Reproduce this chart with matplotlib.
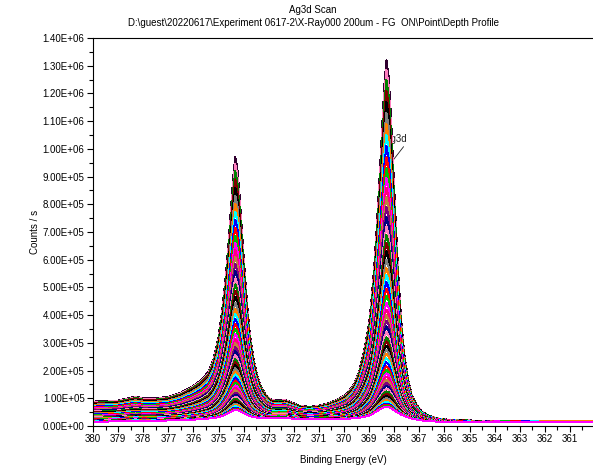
import matplotlib
matplotlib.use("Agg")
import matplotlib.pyplot as plt
from matplotlib.ticker import MultipleLocator, FuncFormatter
import numpy as np

plt.rcParams['font.family'] = ['Liberation Sans', 'DejaVu Sans']
plt.rcParams['font.size'] = 7

TITLE = "Ag3d Scan"
SUBTITLE = "D:\\guest\\20220617\\Experiment 0617-2\\X-Ray000 200um - FG  ON\\Point\\Depth Profile"

# binding energy grid (eV)
energy = [380.0, 379.5, 379.0, 378.6, 378.3, 378.0, 377.5, 377.0, 376.5, 376.0,
          375.7, 375.4, 375.2, 375.0, 374.85, 374.7, 374.6, 374.5, 374.4, 374.33,
          374.25, 374.15, 374.05, 373.95, 373.85, 373.75, 373.6, 373.45, 373.3, 373.1,
          372.9, 372.6, 372.35, 372.1, 371.8, 371.4, 371.0, 370.6, 370.2, 369.9,
          369.6, 369.4, 369.2, 369.0, 368.9, 368.8, 368.7, 368.6, 368.5, 368.4,
          368.31, 368.22, 368.12, 368.02, 367.92, 367.82, 367.72, 367.6, 367.45, 367.3,
          367.1, 366.9, 366.6, 366.3, 366.0, 365.5, 365.0, 364.0, 362.0, 360.0]

# last (deepest) scan, counts/s in 1e5
top_scan = [0.88, 0.90, 0.92, 1.00, 1.06, 1.00, 1.00, 1.05, 1.20, 1.45,
            1.65, 1.95, 2.4, 3.2, 4.2, 5.5, 6.6, 7.9, 9.1, 9.7,
            9.3, 8.2, 6.8, 5.5, 4.3, 3.3, 2.4, 1.8, 1.4, 1.1,
            0.95, 0.92, 0.95, 0.85, 0.74, 0.69, 0.73, 0.82, 0.98, 1.15,
            1.5, 1.95, 2.7, 3.7, 4.6, 5.7, 7.1, 8.7, 10.4, 12.2,
            13.2, 12.6, 11.0, 9.0, 7.0, 5.2, 3.8, 2.6, 1.7, 1.1,
            0.75, 0.52, 0.36, 0.28, 0.24, 0.21, 0.20, 0.18, 0.17, 0.17]

# first (surface) scan, counts/s in 1e5
first_scan = [0.15, 0.16, 0.17, 0.18, 0.19, 0.18, 0.19, 0.20, 0.21, 0.23,
              0.25, 0.27, 0.29, 0.32, 0.36, 0.42, 0.47, 0.52, 0.56, 0.58,
              0.57, 0.54, 0.49, 0.44, 0.40, 0.36, 0.32, 0.30, 0.29, 0.28,
              0.28, 0.28, 0.28, 0.27, 0.26, 0.25, 0.25, 0.25, 0.25, 0.26,
              0.28, 0.30, 0.33, 0.38, 0.42, 0.47, 0.53, 0.59, 0.64, 0.68,
              0.69, 0.68, 0.64, 0.58, 0.52, 0.46, 0.41, 0.36, 0.31, 0.27,
              0.23, 0.20, 0.18, 0.16, 0.15, 0.14, 0.14, 0.13, 0.13, 0.13]

# Ag3d5/2 peak height of every scan in the profile (1e5 counts/s)
peak_heights = [0.69, 0.72, 0.76, 0.81, 0.87, 0.93, 1.0, 1.08, 1.16, 1.25,
                1.35, 1.45, 1.55, 1.66, 1.78, 1.9, 2.02, 2.15, 2.3, 2.45,
                2.6, 2.75, 2.9, 3.05, 3.2, 3.4, 3.6, 3.8, 4.0, 4.2,
                4.45, 4.7, 4.95, 5.2, 5.45, 5.7, 6.0, 6.3, 6.6, 6.9,
                7.2, 7.55, 7.9, 8.25, 8.6, 8.95, 9.3, 9.7, 10.1, 10.5,
                10.9, 11.3, 11.7, 12.1, 12.5, 12.85, 13.2]

line_colors = ['#FF00FF', '#00C000', '#FF0000', '#0000FF', '#00FFFF', '#FF8000',
               '#808080', '#000000', '#800000', '#008000', '#FF80C0', '#000080',
               '#800080', '#C08040', '#FF0080']

x = np.array(energy)
top = np.array(top_scan)
first = np.array(first_scan)
ipk = energy.index(368.31)

fig = plt.figure(figsize=(5.93, 4.70), dpi=100)
ax = fig.add_axes([93 / 593, 44 / 470, 500 / 593, 388 / 470])

# deepest scans first so that the surface scans end up drawn on top
n = len(peak_heights)
for i in reversed(range(n)):
    h = peak_heights[i]
    w = (h - first[ipk]) / (top[ipk] - first[ipk])
    y = (first + w * (top - first)) * 1e5
    c = '#300030' if i == n - 1 else line_colors[i % len(line_colors)]
    ax.plot(x, y, color=c, lw=0.72, antialiased=False, zorder=2)

ax.annotate("Ag3d", xy=(368.25, 9.35e5), xytext=(368.38, 10.36e5),
            va='center', ha='left', fontsize=7, color='#202020', zorder=1,
            arrowprops=dict(arrowstyle='-', color='#202020', lw=0.6,
                            relpos=(1.0, 0.2), shrinkA=0, shrinkB=0))

ax.set_xlim(380, 360.08)
ax.set_ylim(0, 1.4e6)
ax.xaxis.set_major_locator(MultipleLocator(1))
ax.xaxis.set_minor_locator(MultipleLocator(0.5))
ax.yaxis.set_major_locator(MultipleLocator(1e5))
ax.yaxis.set_minor_locator(MultipleLocator(5e4))
ax.yaxis.set_major_formatter(FuncFormatter(lambda v, p: f"{v:.2E}"))
ax.xaxis.set_major_formatter(FuncFormatter(lambda v, p: f"{v:.0f}" if v > 360.5 else ""))
ax.tick_params(axis='both', which='major', length=4, width=0.8, labelsize=7, pad=2)
ax.tick_params(axis='both', which='minor', length=3, width=0.8)
ax.tick_params(axis='x', pad=2)
ax.spines['right'].set_visible(False)
for s in ('left', 'bottom', 'top'):
    ax.spines[s].set_linewidth(0.8)

ax.set_xlabel("Binding Energy (eV)", fontsize=7, labelpad=8)
ax.set_ylabel("Counts / s", fontsize=7, labelpad=2)

fig.text(313 / 593, 1 - 10 / 470, TITLE, ha='center', va='center', fontsize=7)
fig.text(313 / 593, 1 - 23 / 470, SUBTITLE, ha='center', va='center', fontsize=7)

fig.savefig("out.png", dpi=100)
